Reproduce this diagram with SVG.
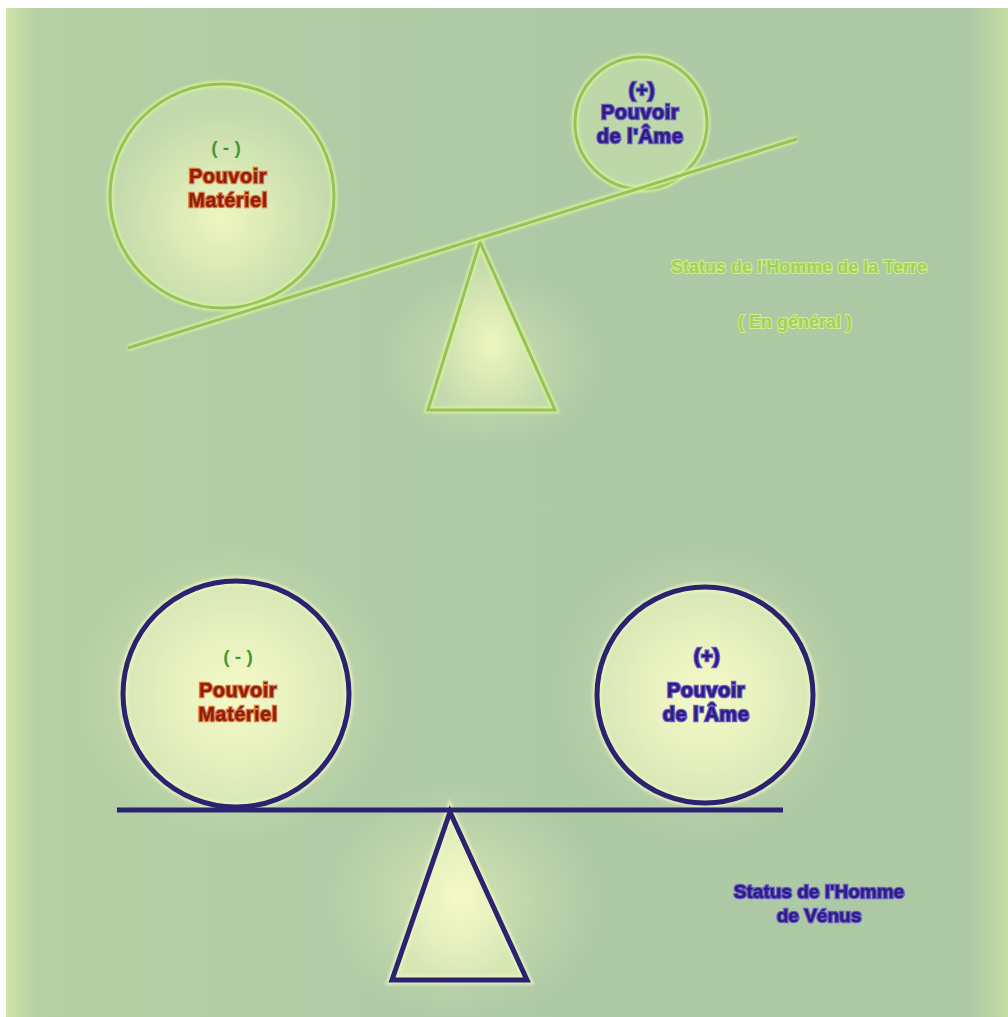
<svg xmlns="http://www.w3.org/2000/svg" width="1008" height="1017" viewBox="0 0 1008 1017">
<defs>
<linearGradient id="bgH" x1="0" y1="0" x2="1" y2="0">
<stop offset="0" stop-color="#cfe4a6"/>
<stop offset="0.03" stop-color="#b6d0a4"/>
<stop offset="0.5" stop-color="#adc9a6"/>
<stop offset="0.96" stop-color="#adc8a4"/>
<stop offset="1" stop-color="#c2dca2"/>
</linearGradient>
<radialGradient id="glowIn" cx="0.5" cy="0.5" r="0.5">
<stop offset="0" stop-color="#f5f9c6"/>
<stop offset="0.6" stop-color="#e6f0bf"/>
<stop offset="1" stop-color="#d6e7b4"/>
</radialGradient>
<radialGradient id="glowInTop" cx="0.5" cy="0.6" r="0.5">
<stop offset="0" stop-color="#eef6c0"/>
<stop offset="0.7" stop-color="#cfe2b0"/>
<stop offset="1" stop-color="#c2d9ad"/>
</radialGradient>
<radialGradient id="halo" cx="0.5" cy="0.5" r="0.5">
<stop offset="0" stop-color="#e8f2b8" stop-opacity="0.9"/>
<stop offset="1" stop-color="#e8f2b8" stop-opacity="0"/>
</radialGradient>
<filter id="soft" x="-20%" y="-20%" width="140%" height="140%"><feGaussianBlur stdDeviation="1.2"/></filter>
</defs>
<style>
.g{fill:none;stroke:#93c35a;stroke-width:3}
.gh{fill:none;stroke:#dcf39a;stroke-width:7;opacity:0.8}
.b{fill:none;stroke:#2b2270;stroke-width:5}
.bh{fill:none;stroke:#eef6c4;stroke-width:10;opacity:0.7}
text{font-family:"Liberation Sans",Arial,sans-serif;font-weight:bold;text-anchor:middle}
.red{fill:#8e1c0c;stroke:#d9743a;stroke-width:2.5;paint-order:stroke;font-size:20px;letter-spacing:0.5px}
.blu{fill:#2c1a86;stroke:#6a5ac0;stroke-width:2.5;paint-order:stroke;font-size:20px;letter-spacing:0.5px}
.grn{fill:#3f9a3a;font-size:19px}
.lg{fill:#a3cf5e;stroke:#d2ee88;stroke-width:2;paint-order:stroke;font-size:18px}
.nv{fill:#2c1a86;stroke:#6a5ac0;stroke-width:2.5;paint-order:stroke;font-size:19px}
</style>
<rect x="0" y="0" width="1008" height="1017" fill="#ffffff"/>
<rect x="6" y="8" width="1002" height="1009" fill="url(#bgH)"/>
<ellipse cx="490" cy="360" rx="110" ry="90" fill="url(#halo)" opacity="0.6"/>
<ellipse cx="460" cy="900" rx="140" ry="120" fill="url(#halo)" opacity="0.7"/>
<ellipse cx="236" cy="694" rx="160" ry="150" fill="url(#halo)" opacity="0.7"/>
<ellipse cx="705" cy="694" rx="150" ry="150" fill="url(#halo)" opacity="0.6"/>
<g id="top-scale">
<g id="top-circle-left">
<circle cx="222" cy="196" r="112" fill="url(#glowInTop)"/>
<circle class="gh" cx="222" cy="196" r="112" filter="url(#soft)"/>
<circle class="g" cx="222" cy="196" r="112"/>
<text class="grn" x="226" y="154">( - )</text>
<text class="red" x="228" y="183">Pouvoir</text>
<text class="red" x="228" y="207">Matériel</text>
</g>
<g id="top-circle-right">
<circle cx="641" cy="123" r="66" fill="#bdd7a8"/>
<circle class="gh" cx="641" cy="123" r="66" filter="url(#soft)"/>
<circle class="g" cx="641" cy="123" r="66"/>
<text class="blu" x="642" y="97">(+)</text>
<text class="blu" x="640" y="119">Pouvoir</text>
<text class="blu" x="640" y="143">de l'Âme</text>
</g>
<g id="top-fulcrum">
<polygon points="480,242 428,410 555,410" fill="url(#glowInTop)"/>
<polygon class="gh" points="480,242 428,410 555,410" filter="url(#soft)"/>
<polygon class="g" points="480,242 428,410 555,410"/>
</g>
<g id="top-beam">
<line class="gh" x1="128" y1="348" x2="797" y2="139" filter="url(#soft)"/>
<line class="g" x1="128" y1="348" x2="797" y2="139"/>
</g>
<g id="top-label">
<text class="lg" x="799" y="273">Status de l'Homme de la Terre</text>
<text class="lg" x="795" y="328">( En général )</text>
</g>
</g>
<g id="bottom-scale">
<g id="bottom-circle-left">
<circle cx="236" cy="694" r="113" fill="url(#glowIn)"/>
<circle class="bh" cx="236" cy="694" r="113" filter="url(#soft)"/>
<circle class="b" cx="236" cy="694" r="113"/>
<text class="grn" x="238" y="663">( - )</text>
<text class="red" x="238" y="697">Pouvoir</text>
<text class="red" x="238" y="721">Matériel</text>
</g>
<g id="bottom-circle-right">
<circle cx="705" cy="695" r="108" fill="url(#glowIn)"/>
<circle class="bh" cx="705" cy="695" r="108" filter="url(#soft)"/>
<circle class="b" cx="705" cy="695" r="108"/>
<text class="blu" x="707" y="663">(+)</text>
<text class="blu" x="706" y="697">Pouvoir</text>
<text class="blu" x="706" y="721">de l'Âme</text>
</g>
<g id="bottom-fulcrum">
<polygon points="450,812 392,980 527,980" fill="url(#glowIn)"/>
<polygon class="bh" points="450,812 392,980 527,980" filter="url(#soft)"/>
<polygon class="b" points="450,812 392,980 527,980"/>
</g>
<g id="bottom-beam">
<line class="bh" x1="117" y1="810" x2="783" y2="810" filter="url(#soft)"/>
<line class="b" x1="117" y1="810" x2="783" y2="810"/>
</g>
<g id="bottom-label">
<text class="nv" x="819" y="898">Status de l'Homme</text>
<text class="nv" x="819" y="922">de Vénus</text>
</g>
</g>
</svg>
